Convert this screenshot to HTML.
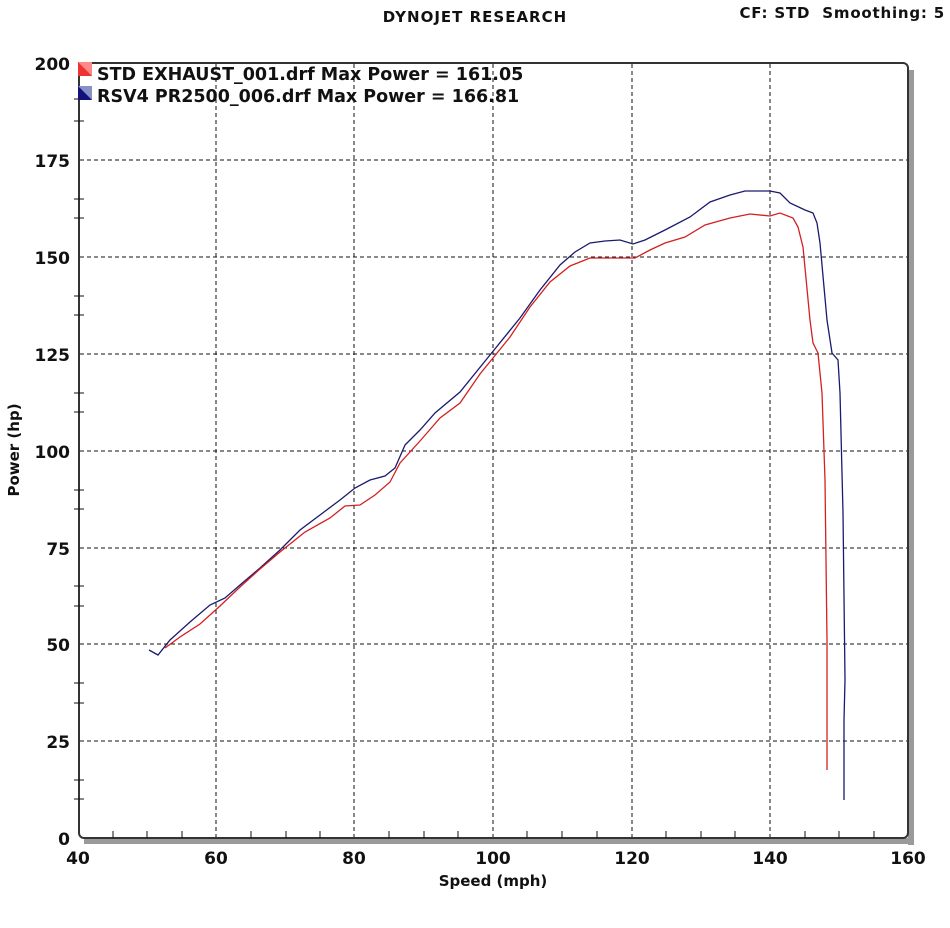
<!DOCTYPE html>
<html><head><style>
body{margin:0;background:#fff;}
svg text{font-family:"DejaVu Sans","Liberation Sans",sans-serif;font-weight:bold;}
</style></head><body>
<svg width="950" height="923" viewBox="0 0 950 923" xmlns="http://www.w3.org/2000/svg">
<rect width="950" height="923" fill="#fff"/>
<text x="475" y="22" font-size="15" letter-spacing="1" text-anchor="middle" fill="#111">DYNOJET RESEARCH</text>
<text x="945" y="18" font-size="15" letter-spacing="0.8" text-anchor="end" fill="#111" xml:space="preserve">CF: STD  Smoothing: 5</text>
<rect x="908" y="70" width="6" height="775" fill="#9a9a9a"/>
<rect x="84" y="838" width="830" height="6" fill="#9a9a9a"/>
<rect x="79" y="63" width="829" height="775" rx="5" fill="#fff" stroke="#333" stroke-width="2"/>
<g stroke="#111" stroke-width="1" stroke-dasharray="4,3">
<line x1="216" y1="64" x2="216" y2="837"/><line x1="354" y1="64" x2="354" y2="837"/>
<line x1="493" y1="64" x2="493" y2="837"/><line x1="632" y1="64" x2="632" y2="837"/>
<line x1="770" y1="64" x2="770" y2="837"/>
<line x1="80" y1="160" x2="907" y2="160"/><line x1="80" y1="257" x2="907" y2="257"/>
<line x1="80" y1="354" x2="907" y2="354"/><line x1="80" y1="451" x2="907" y2="451"/>
<line x1="80" y1="548" x2="907" y2="548"/><line x1="80" y1="644" x2="907" y2="644"/>
<line x1="80" y1="741" x2="907" y2="741"/>
</g>
<g stroke="#111" stroke-width="1">
<path d="M113 838v-7M147 838v-7M182 838v-7M251 838v-7M286 838v-7M320 838v-7M389 838v-7M424 838v-7M458 838v-7M527 838v-7M562 838v-7M597 838v-7M666 838v-7M701 838v-7M735 838v-7M805 838v-7M839 838v-7M874 838v-7"/>
<path d="M74 99h10M74 199h10M74 218h10M74 296h10M74 315h10M74 393h10M74 412h10M74 490h10M74 509h10M74 586h10M74 606h10M74 683h10M74 703h10M74 780h10M74 799h10M74 121h10"/>
</g>
<g font-size="17" fill="#111" text-anchor="end">
<text x="70" y="70">200</text><text x="70" y="167">175</text><text x="70" y="264">150</text>
<text x="70" y="361">125</text><text x="70" y="458">100</text><text x="70" y="555">75</text>
<text x="70" y="651">50</text><text x="70" y="748">25</text><text x="70" y="845">0</text>
</g>
<g font-size="17" fill="#111" text-anchor="middle">
<text x="78" y="864">40</text><text x="216" y="864">60</text><text x="354" y="864">80</text>
<text x="493" y="864">100</text><text x="632" y="864">120</text><text x="770" y="864">140</text><text x="908" y="864">160</text>
</g>
<text x="493" y="886" font-size="15" text-anchor="middle" fill="#111">Speed (mph)</text>
<text transform="translate(19,450) rotate(-90)" font-size="15" text-anchor="middle" fill="#111">Power (hp)</text>
<polyline fill="none" stroke="#1a1a6e" stroke-width="1.3" points="149,650 158,655 170,640 190,622 210,605 225,598 240,585 260,568 280,550 300,530 320,515 340,500 355,488 370,480 385,476 395,468 405,445 420,430 435,413 460,392 490,355 520,318 540,290 560,265 575,252 590,243 605,241 620,240 633,244 645,240 665,230 690,217 710,202 730,195 745,191 770,191 780,193 790,203 805,210 813,213 817,223 820,243 827,320 832,353 838,360 840,393 843,513 845,680 844,720 844,800"/>
<polyline fill="none" stroke="#d42020" stroke-width="1.3" points="165,648 180,637 200,624 220,606 240,587 260,569 280,552 305,532 330,518 345,506 360,505 375,495 390,482 400,463 420,441 440,418 460,403 480,374 510,337 530,307 550,282 570,266 590,258 610,258 635,258 650,250 665,243 685,237 705,225 730,218 750,214 770,216 780,213 793,218 798,227 803,247 810,320 813,343 818,353 822,393 825,480 827,640 827,770"/>
<rect x="78" y="62" width="14" height="14" fill="#e33"/><path d="M78 62l14 14V62z" fill="#f88"/>
<rect x="78" y="86" width="14" height="14" fill="#12127a"/><path d="M78 86l14 14V86z" fill="#8890c8"/>
<text x="97" y="80" font-size="17.5" fill="#111">STD EXHAUST_001.drf Max Power = 161.05</text>
<text x="97" y="102" font-size="17.5" fill="#111">RSV4 PR2500_006.drf Max Power = 166.81</text>
</svg>
</body></html>
